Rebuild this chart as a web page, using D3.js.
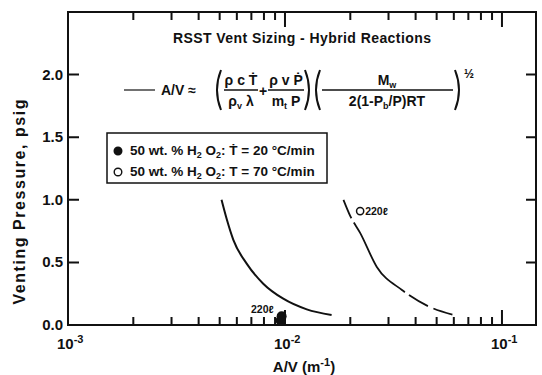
<!DOCTYPE html>
<html>
<head>
<meta charset="utf-8">
<script src="https://cdn.jsdelivr.net/npm/d3@7"></script>
<style>
  body { margin: 0; background: #fff; }
  svg { display: block; }
  text { font-family: "Liberation Sans", Arial, sans-serif; font-weight: bold; fill: #111; }
</style>
</head>
<body>
<div id="chart"></div>
<script>

// data

var xMajor = [1e-3, 1e-2, 1e-1];
var xMinor = [2e-3, 3e-3, 4e-3, 5e-3, 6e-3, 7e-3, 8e-3, 9e-3,
              2e-2, 3e-2, 4e-2, 5e-2, 6e-2, 7e-2, 8e-2, 9e-2];
var xLabels = ["-3", "-2", "-1"];
var yTicks = [0, 0.5, 1.0, 1.5, 2.0];

// 20 C/min curve (solid)
var slowAV = [5.1e-3, 5.4e-3, 5.78e-3, 6.66e-3, 7.94e-3, 9.82e-3, 1.26e-2, 1.64e-2];
var slowP  = [1.0, 0.84, 0.68, 0.49, 0.33, 0.21, 0.125, 0.08];

// 70 C/min curve (broken)
var fastAV = [1.86e-2, 2.0e-2, 2.22e-2, 2.65e-2, 3.46e-2, 4.65e-2, 6.0e-2];
var fastP  = [1.0, 0.87, 0.736, 0.464, 0.28, 0.144, 0.08];

// 220 litre test points
var filledAV = [9.55e-3, 9.65e-3];
var filledP  = [0.035, 0.07];
var openAV = [2.22e-2];
var openP  = [0.91];

// layout (careful, "top" is taken by window)

var width = 542, height = 375;
var mLeft = 68, mRight = 536, mTop = 12, mBottom = 325;

var svg = d3.select("#chart").append("svg")
  .attr("width", width)
  .attr("height", height);

var x = d3.scaleLog().domain([1e-3, 0.1435]).range([mLeft, mRight]);
var y = d3.scaleLinear().domain([0, 2.5]).range([mBottom, mTop]);

var allX = xMajor.concat(xMinor);

function xLen(d) { return xMajor.indexOf(d) >= 0 ? 15 : 8; }

// frame and its inward ticks as one path, built from the scales

var frame = d3.path();
frame.moveTo(mLeft, mTop);
frame.lineTo(mRight, mTop);
frame.lineTo(mRight, mBottom);
frame.lineTo(mLeft, mBottom);
frame.closePath();

allX.forEach(function (v) {
  frame.moveTo(x(v), mBottom);
  frame.lineTo(x(v), mBottom - xLen(v));
  frame.moveTo(x(v), mTop);
  frame.lineTo(x(v), mTop + xLen(v));
});
yTicks.slice(1).forEach(function (v) {
  frame.moveTo(mLeft, y(v));
  frame.lineTo(mLeft + 11, y(v));
  frame.moveTo(mRight, y(v));
  frame.lineTo(mRight - 10, y(v));
});

svg.append("path")
  .attr("d", frame.toString())
  .style("fill", "none").style("stroke", "#111").style("stroke-width", "2px");

// tick labels

svg.selectAll(".ylab")
  .data(yTicks)
  .enter().append("text")
  .attr("class", "ylab")
  .attr("x", mLeft - 5)
  .attr("y", function (d) { return y(d) + 5; })
  .attr("text-anchor", "end")
  .style("font-size", "15px")
  .text(function (d) { return d3.format(".1f")(d); });

var xl = svg.selectAll(".xlab")
  .data(xMajor)
  .enter().append("text")
  .attr("class", "xlab")
  .attr("x", function (d) { return x(d) - 11; })
  .attr("y", 349)
  .style("font-size", "15px");
xl.append("tspan").text("10");
xl.append("tspan")
  .attr("dy", -6)
  .style("font-size", "11px")
  .text(function (d, i) { return xLabels[i]; });

// axis titles

var xt = svg.append("text")
  .attr("x", 304).attr("y", 372)
  .attr("text-anchor", "middle")
  .style("font-size", "15px");
xt.append("tspan").text("A/V (m");
xt.append("tspan").attr("dy", -6).style("font-size", "11px").text("-1");
xt.append("tspan").attr("dy", 6).text(")");

svg.append("text")
  .attr("transform", "translate(25,202) rotate(-90)")
  .attr("text-anchor", "middle")
  .attr("textLength", 205)
  .style("font-size", "16px")
  .text("Venting Pressure, psig");

// title

svg.append("text")
  .attr("x", 302).attr("y", 43)
  .attr("text-anchor", "middle")
  .attr("textLength", 258)
  .style("font-size", "14px")
  .text("RSST Vent Sizing - Hybrid Reactions");

// equation

var eq = svg.append("g");
var eqY = 90;

function eqText(tx, ty, size, anchor) {
  return eq.append("text")
    .attr("x", tx).attr("y", ty)
    .attr("text-anchor", anchor || "middle")
    .style("font-size", size + "px");
}

eq.append("line")
  .attr("x1", 124).attr("x2", 155)
  .attr("y1", eqY).attr("y2", eqY)
  .style("stroke", "#111").style("stroke-width", "1.2px");

eqText(161, eqY + 5, 14, "start").text("A/V \u2248");

function paren(px, open) {
  var dx = open ? 4 : -4;
  eq.append("path")
    .attr("d", "M" + (px + dx) + "," + (eqY - 20) +
               " Q" + (px - dx) + "," + eqY + " " + (px + dx) + "," + (eqY + 20))
    .style("fill", "none").style("stroke", "#111").style("stroke-width", "2px");
}

paren(217, true);
paren(309, false);
paren(316, true);
paren(459, false);

function bar(x1, x2) {
  eq.append("line")
    .attr("x1", x1).attr("x2", x2)
    .attr("y1", eqY).attr("y2", eqY)
    .style("stroke", "#111").style("stroke-width", "1.4px");
}

// first fraction
bar(224, 258);
var n1 = eqText(241, eqY - 5, 14);
n1.append("tspan").text("\u03c1 c T\u0307");
var d1 = eqText(241, eqY + 16, 14);
d1.append("tspan").text("\u03c1");
d1.append("tspan").attr("dy", 3).style("font-size", "9px").text("v");
d1.append("tspan").attr("dy", -3).text(" \u03bb");

eqText(263, eqY + 6, 14).text("+");

// second fraction
bar(268, 304);
var n2 = eqText(286, eqY - 5, 14);
n2.append("tspan").text("\u03c1 v P\u0307");
var d2 = eqText(286, eqY + 16, 14);
d2.append("tspan").text("m");
d2.append("tspan").attr("dy", 3).style("font-size", "9px").text("t");
d2.append("tspan").attr("dy", -3).text(" P");

// third fraction
bar(322, 453);
var n3 = eqText(387, eqY - 5, 14);
n3.append("tspan").text("M");
n3.append("tspan").attr("dy", 3).style("font-size", "9px").text("w");
var d3t = eqText(387, eqY + 16, 14);
d3t.append("tspan").text("2(1-P");
d3t.append("tspan").attr("dy", 3).style("font-size", "9px").text("b");
d3t.append("tspan").attr("dy", -3).text("/P)RT");

eqText(464, 78, 12, "start").text("\u00bd");

// legend

svg.append("rect")
  .attr("x", 107).attr("y", 133)
  .attr("width", 220).attr("height", 50)
  .style("fill", "#fff").style("stroke", "#111").style("stroke-width", "1.5px");

var legendRows = [
  { filled: true, rate: "20", y: 151 },
  { filled: false, rate: "70", y: 172 }
];

legendRows.forEach(function (r) {
  svg.append("circle")
    .attr("cx", 118).attr("cy", r.y)
    .attr("r", 3.8)
    .style("fill", r.filled ? "#111" : "#fff")
    .style("stroke", "#111").style("stroke-width", "1.4px");
  var t = svg.append("text")
    .attr("x", 130).attr("y", r.y + 4)
    .style("font-size", "13.5px");
  t.append("tspan").text("50 wt. % H");
  t.append("tspan").attr("dy", 3).style("font-size", "9px").text("2");
  t.append("tspan").attr("dy", -3).text(" O");
  t.append("tspan").attr("dy", 3).style("font-size", "9px").text("2");
  t.append("tspan").attr("dy", -3).text(": " + (r.filled ? "T\u0307" : "T") + " = " + r.rate + " \u00b0C/min");
});

// curves

var line = d3.line()
  .x(function (d) { return x(d[0]); })
  .y(function (d) { return y(d[1]); })
  .curve(d3.curveMonotoneX);

svg.append("path")
  .datum(d3.zip(slowAV, slowP))
  .attr("d", line)
  .style("fill", "none").style("stroke", "#111").style("stroke-width", "2px");

svg.append("path")
  .datum(d3.zip(fastAV, fastP))
  .attr("d", line)
  .style("fill", "none").style("stroke", "#111").style("stroke-width", "1.8px")
  .style("stroke-dasharray", "20,5,88,5,22,6,20");

// 220 litre points

svg.selectAll(".filled")
  .data(d3.zip(filledAV, filledP))
  .enter().append("circle")
  .attr("class", "filled")
  .attr("cx", function (d) { return x(d[0]); })
  .attr("cy", function (d) { return y(d[1]); })
  .attr("r", 5)
  .style("fill", "#111");

svg.selectAll(".open")
  .data(d3.zip(openAV, openP))
  .enter().append("circle")
  .attr("class", "open")
  .attr("cx", function (d) { return x(d[0]); })
  .attr("cy", function (d) { return y(d[1]); })
  .attr("r", 3.6)
  .style("fill", "#fff").style("stroke", "#111").style("stroke-width", "1.5px");

svg.append("text")
  .attr("x", x(filledAV[0]) - 7).attr("y", y(filledP[1]) - 3)
  .attr("text-anchor", "end")
  .style("font-size", "10.5px")
  .text("220\u2113");

svg.append("text")
  .attr("x", x(openAV[0]) + 5).attr("y", y(openP[0]) + 4)
  .style("font-size", "10.5px")
  .text("220\u2113");

</script>
</body>
</html>
